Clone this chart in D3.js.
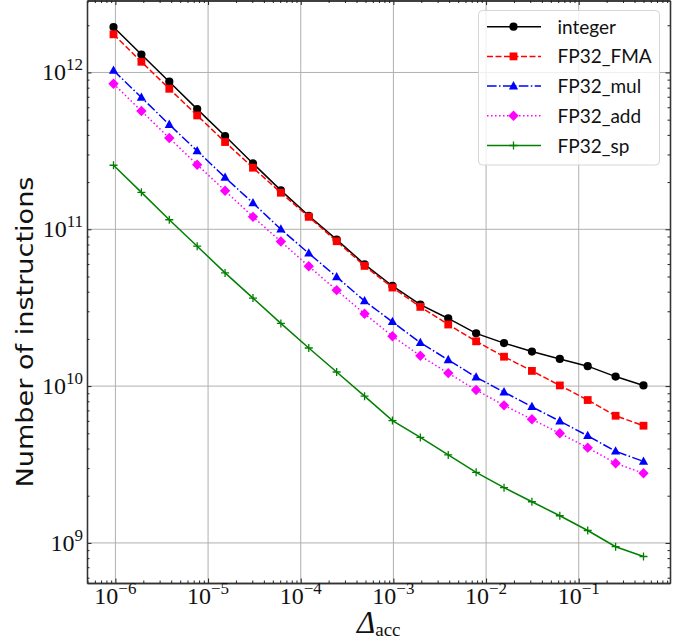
<!DOCTYPE html>
<html><head><meta charset="utf-8">
<script src="https://cdn.jsdelivr.net/npm/d3@7"></script>
<style>body{margin:0;background:#fff} svg{display:block}</style>
</head><body><svg id="c" width="686" height="639"></svg>
<script>
// Delta_acc values (x)
const deltaAcc = [9.5367e-7, 1.9073e-6, 3.8147e-6, 7.6294e-6, 1.5259e-5, 3.0518e-5, 6.1035e-5,
  1.2207e-4, 2.4414e-4, 4.8828e-4, 9.7656e-4, 1.9531e-3, 3.9063e-3, 7.8125e-3, 1.5625e-2,
  3.125e-2, 6.25e-2, 0.125, 0.25, 0.5];
const integerVals = [1.95e12, 1.30e12, 8.73e11, 5.84e11, 3.93e11, 2.63e11, 1.77e11, 1.22e11, 8.59e10, 5.98e10,
  4.35e10, 3.31e10, 2.70e10, 2.17e10, 1.88e10, 1.66e10, 1.49e10, 1.34e10, 1.15e10, 1.01e10];
const fmaVals = [1.75e12, 1.17e12, 7.87e11, 5.32e11, 3.60e11, 2.47e11, 1.71e11, 1.20e11, 8.39e10, 5.84e10,
  4.25e10, 3.20e10, 2.47e10, 1.93e10, 1.54e10, 1.25e10, 1.01e10, 8.15e9, 6.47e9, 5.59e9];
const mulVals = [1.03e12, 6.93e11, 4.65e11, 3.16e11, 2.14e11, 1.47e11, 1.00e11, 7.03e10, 4.97e10, 3.49e10,
  2.57e10, 1.89e10, 1.47e10, 1.14e10, 9.16e9, 7.38e9, 5.98e9, 4.82e9, 3.84e9, 3.31e9];
const addVals = [8.47e11, 5.68e11, 3.82e11, 2.58e11, 1.76e11, 1.20e11, 8.36e10, 5.81e10, 4.09e10, 2.89e10,
  2.08e10, 1.56e10, 1.21e10, 9.44e9, 7.54e9, 6.14e9, 5.00e9, 4.05e9, 3.22e9, 2.78e9];
const spVals = [2.56e11, 1.72e11, 1.15e11, 7.80e10, 5.27e10, 3.64e10, 2.51e10, 1.75e10, 1.23e10, 8.63e9,
  6.03e9, 4.71e9, 3.64e9, 2.82e9, 2.25e9, 1.83e9, 1.49e9, 1.20e9, 9.46e8, 8.19e8];
const seriesNames = ["integer", "FP32_FMA", "FP32_mul", "FP32_add", "FP32_sp"];
const xTickExps = [-6, -5, -4, -3, -2, -1];
const yTickExps = [9, 10, 11, 12];

const styles = [
  {color: "#000000", dash: null, marker: "circle"},
  {color: "#ff0000", dash: "6,2.5", marker: "square"},
  {color: "#0000ff", dash: "9.6,2.4,1.5,2.4", marker: "triangle"},
  {color: "#ff00ff", dash: "1.5,2.5", marker: "diamond"},
  {color: "#008000", dash: null, marker: "plus"}
];
const seriesVals = [integerVals, fmaVals, mulVals, addVals, spVals];

const L = 87, R = 670, T = 0.5, B = 583;
const svg = d3.select("#c");

function logDomain(vals) {
  const lo = Math.log10(d3.min(vals)), hi = Math.log10(d3.max(vals));
  const m = (hi - lo) * 0.05;
  return [Math.pow(10, lo - m), Math.pow(10, hi + m)];
}
const x = d3.scaleLog().domain(logDomain(deltaAcc)).range([L, R]);
const y = d3.scaleLog().domain(logDomain(seriesVals.flat())).range([B, T]);

function minorTicks(scale) {
  const [a, b] = scale.domain();
  const out = [];
  for (let e = Math.floor(Math.log10(a)); e <= Math.ceil(Math.log10(b)); e++)
    for (let k = 2; k <= 9; k++) { const v = k * Math.pow(10, e); if (v >= a && v <= b) out.push(v); }
  return out;
}
const xMajor = xTickExps.map(e => Math.pow(10, e));
const yMajor = yTickExps.map(e => Math.pow(10, e));

// grid
const grid = svg.append("g").attr("stroke", "#b0b0b0").attr("stroke-width", 1);
xMajor.forEach(v => grid.append("line").attr("x1", x(v)).attr("x2", x(v)).attr("y1", T).attr("y2", B));
yMajor.forEach(v => grid.append("line").attr("x1", L).attr("x2", R).attr("y1", y(v)).attr("y2", y(v)));

// axes (ticks inward)
function drawAxis(axisFn, scale, transform, major, minor, sign) {
  const g1 = svg.append("g").attr("transform", transform)
    .call(axisFn(scale).tickValues(major).tickSize(sign * 4.5).tickSizeOuter(0).tickFormat(""));
  const g2 = svg.append("g").attr("transform", transform)
    .call(axisFn(scale).tickValues(minor).tickSize(sign * 2.5).tickSizeOuter(0).tickFormat(""));
  [g1, g2].forEach(g => {
    g.selectAll(".tick line").attr("stroke", "#222").attr("stroke-width", 1);
    g.select(".domain").attr("stroke", "#333").attr("stroke-width", 1.3);
  });
}
drawAxis(d3.axisBottom, x, `translate(0,${B})`, xMajor, minorTicks(x), -1);
drawAxis(d3.axisTop, x, `translate(0,${T})`, xMajor, minorTicks(x), -1);
drawAxis(d3.axisLeft, y, `translate(${L},0)`, yMajor, minorTicks(y), -1);
drawAxis(d3.axisRight, y, `translate(${R},0)`, yMajor, minorTicks(y), -1);

// tick labels
const serif = "'Liberation Serif', 'DejaVu Serif', serif";
xTickExps.forEach(e => {
  const t = svg.append("text").attr("x", x(Math.pow(10, e))).attr("y", B + 21)
    .attr("text-anchor", "middle").attr("font-family", serif).attr("font-size", 24).attr("fill", "#111");
  t.append("tspan").text("10");
  t.append("tspan").attr("dy", -10).attr("font-size", 17).text("\u2212" + Math.abs(e));
});
yTickExps.forEach(e => {
  const t = svg.append("text").attr("x", L - 4).attr("y", y(Math.pow(10, e)) + 8)
    .attr("text-anchor", "end").attr("font-family", serif).attr("font-size", 24).attr("fill", "#111");
  t.append("tspan").text("10");
  t.append("tspan").attr("dy", -10).attr("font-size", 17).text(String(e));
});

// axis labels
const sans = "Lato, 'DejaVu Sans', sans-serif";
svg.append("text").attr("transform", `translate(33,332) rotate(-90)`).attr("text-anchor", "middle")
  .attr("font-family", "'DejaVu Sans', sans-serif").attr("font-size", 23).attr("fill", "#111")
  .attr("textLength", 311).attr("lengthAdjust", "spacingAndGlyphs").text("Number of instructions");
const xl = svg.append("text").attr("x", 357).attr("y", 633).attr("font-family", serif).attr("fill", "#111");
xl.append("tspan").attr("font-size", 31).attr("font-style", "italic").text("\u0394");
xl.append("tspan").attr("font-size", 19).attr("dy", 3).text("acc");

// markers
function drawMarker(g, type, cx, cy, color) {
  if (type === "circle") g.append("circle").attr("cx", cx).attr("cy", cy).attr("r", 4.1).attr("fill", color);
  else if (type === "square") g.append("rect").attr("x", cx - 3.9).attr("y", cy - 3.9).attr("width", 7.8).attr("height", 7.8).attr("fill", color);
  else if (type === "triangle") g.append("path").attr("d", `M${cx},${cy - 5}L${cx + 4.6},${cy + 3.3}L${cx - 4.6},${cy + 3.3}Z`).attr("fill", color);
  else if (type === "diamond") g.append("path").attr("d", `M${cx},${cy - 5.2}L${cx + 5.2},${cy}L${cx},${cy + 5.2}L${cx - 5.2},${cy}Z`).attr("fill", color);
  else if (type === "plus") g.append("path").attr("d", `M${cx - 4},${cy}H${cx + 4}M${cx},${cy - 4}V${cy + 4}`).attr("stroke", color).attr("stroke-width", 1.3);
}

const line = d3.line().x(d => x(d[0])).y(d => y(d[1]));
const plot = svg.append("g");
seriesVals.forEach((vals, i) => {
  const st = styles[i];
  const pts = deltaAcc.map((d, j) => [d, vals[j]]);
  plot.append("path").attr("d", line(pts)).attr("fill", "none").attr("stroke", st.color)
    .attr("stroke-width", 1.5).attr("stroke-dasharray", st.dash);
  const mg = plot.append("g");
  pts.forEach(p => drawMarker(mg, st.marker, x(p[0]), y(p[1]), st.color));
});

// legend
const lg = svg.append("g");
lg.append("rect").attr("x", 478.5).attr("y", 10.5).attr("width", 181).attr("height", 154.5).attr("rx", 4)
  .attr("fill", "#fff").attr("fill-opacity", 0.8).attr("stroke", "#d6d6d6").attr("stroke-width", 1);
seriesNames.forEach((name, i) => {
  const st = styles[i];
  const yy = 26.7 + i * 29.7;
  lg.append("line").attr("x1", 487).attr("x2", 541).attr("y1", yy).attr("y2", yy)
    .attr("stroke", st.color).attr("stroke-width", 1.5).attr("stroke-dasharray", st.dash);
  drawMarker(lg, st.marker, 513.5, yy, st.color);
  lg.append("text").attr("x", 557.5).attr("y", yy + 7).attr("font-family", sans).attr("font-size", 19)
    .attr("fill", "#111").text(name);
});
</script></body></html>
